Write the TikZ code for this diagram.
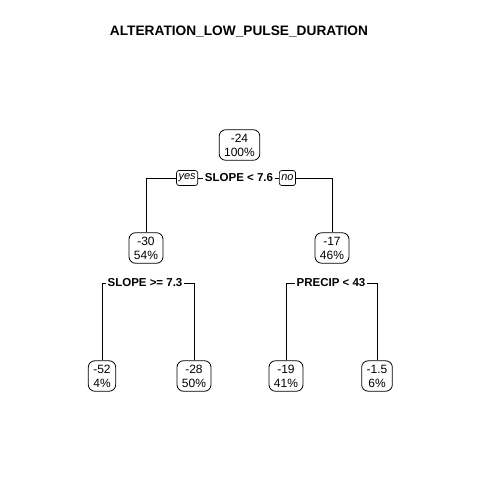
\documentclass[tikz,border=0pt]{standalone}
\usepackage{fontspec}
\setmainfont{Liberation Sans}
\begin{document}
\begin{tikzpicture}[x=1pt,y=-1pt,
  box/.style={draw,rounded corners=6.5pt,line width=0.8pt,align=center,inner xsep=5pt,inner ysep=4pt,font=\fontsize{12}{14}\selectfont},
  splitlbl/.style={inner xsep=1.5pt,inner ysep=1pt,font=\bfseries\fontsize{11.5}{12.5}\selectfont},
  yn/.style={draw,rounded corners=2.5pt,line width=0.7pt,inner xsep=2pt,inner ysep=0pt,minimum height=15pt,font=\itshape\fontsize{11}{12}\selectfont},
  edge/.style={line width=0.8pt}]
\useasboundingbox (0,0) rectangle (480,480);
\node[font=\bfseries\fontsize{13.7}{15}\selectfont] (title) at (239,32) {ALTERATION\_LOW\_PULSE\_DURATION};
\node[box] (n1) at (239.5,145) {-24\\100\%};
\node[splitlbl] (s1) at (239,178) {SLOPE < 7.6};
\node[yn,anchor=east] (yes) at (198,178) {yes};
\node[yn,anchor=west] (no) at (279,178) {no};
\node[box] (n2) at (146,248) {-30\\54\%};
\node[box] (n3) at (332,248) {-17\\46\%};
\node[splitlbl] (s2) at (145,283) {SLOPE >= 7.3};
\node[splitlbl] (s3) at (331,283) {PRECIP < 43};
\node[box] (n4) at (102,376) {-52\\4\%};
\node[box] (n5) at (194,376) {-28\\50\%};
\node[box] (n6) at (286,376) {-19\\41\%};
\node[box] (n7) at (377,376) {-1.5\\6\%};
\draw[edge] (yes.west) -| (n2.north);
\draw[edge] (yes.east) -- (s1.west);
\draw[edge] (s1.east) -- (no.west);
\draw[edge] (no.east) -| (n3.north);
\draw[edge] (s2.west) -| (n4.north);
\draw[edge] (s2.east) -| (n5.north);
\draw[edge] (s3.west) -| (n6.north);
\draw[edge] (s3.east) -| (n7.north);
\end{tikzpicture}
\end{document}
